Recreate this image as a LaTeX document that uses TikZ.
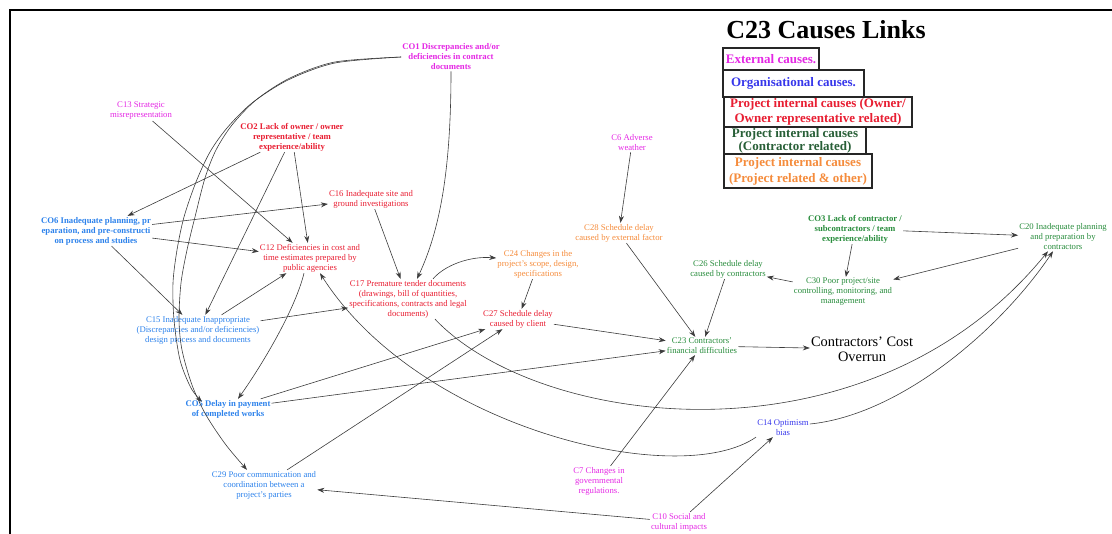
\documentclass[tikz,border=0pt]{standalone}
\usepackage{fontspec}
\setmainfont{Liberation Serif}
\usetikzlibrary{arrows.meta}
\definecolor{magC}{RGB}{228,40,228}
\definecolor{redC}{RGB}{232,30,50}
\definecolor{lblueC}{RGB}{45,130,235}
\definecolor{vblueC}{RGB}{55,55,235}
\definecolor{greenC}{RGB}{40,140,60}
\definecolor{dgreenC}{RGB}{40,95,55}
\definecolor{orangeC}{RGB}{245,140,60}
\definecolor{lineC}{RGB}{60,60,60}
\begin{document}
\begin{tikzpicture}[x=1pt,y=-1pt,
 lbl/.style={font=\fontsize{8.7}{10}\selectfont, align=center, inner sep=1pt},
 blbl/.style={font=\bfseries\fontsize{8.7}{10}\selectfont, align=center, inner sep=1pt},
 edge/.style={draw=lineC, line width=0.6pt, -{Stealth[length=7pt,width=5pt]}},
 legbox/.style={draw=black!85, line width=1.3pt, align=center, inner sep=0pt, fill=white},
]
\useasboundingbox (0,0) rectangle (1112,534);
\draw[line width=1.5pt] (10,534) -- (10,10) -- (1112,10);

% title and legend
\node[font=\bfseries\fontsize{26}{30}\selectfont, inner sep=0pt] (title) at (826,30) {C23 Causes Links};
\node[legbox, text=magC, minimum width=96pt, minimum height=23pt, font=\bfseries\fontsize{13}{15}\selectfont] (lg1) at (771,59.5) {External causes.};
\node[legbox, text=vblueC, minimum width=141pt, minimum height=27pt, font=\bfseries\fontsize{13}{15}\selectfont] (lg2) at (793.5,83.5) {Organisational causes.};
\node[legbox, text=redC, minimum width=188pt, minimum height=30pt, font=\bfseries\fontsize{13}{15}\selectfont] (lg3) at (818,112) {Project internal causes (Owner/\\Owner representative related)};
\node[legbox, text=dgreenC, minimum width=142pt, minimum height=28pt, font=\bfseries\fontsize{13}{12.5}\selectfont] (lg4) at (795,141) {Project internal causes\\(Contractor related)};
\node[legbox, text=orangeC, minimum width=148pt, minimum height=34pt, font=\bfseries\fontsize{13}{16}\selectfont] (lg5) at (798,171) {Project internal causes\\(Project related \& other)};

% nodes
\node[lbl, text=magC] (c13) at (141,111) {C13 Strategic\\misrepresentation};
\node[blbl, text=redC] (co2) at (292,137) {CO2 Lack of owner / owner\\representative / team\\experience/ability};
\node[blbl, text=magC] (co1) at (451,57) {CO1 Discrepancies and/or\\deficiencies in contract\\documents};
\node[lbl, text=magC] (c6) at (632,143) {C6 Adverse\\weather};
\node[blbl, text=lblueC] (co6) at (96,231) {CO6 Inadequate planning, pr\\eparation, and pre-constructi\\on process and studies};
\node[lbl, text=redC] (c16) at (371,199) {C16 Inadequate site and\\ground investigations};
\node[lbl, text=redC] (c12) at (310,258) {C12 Deficiencies in cost and\\time estimates prepared by\\public agencies};
\node[lbl, text=redC] (c17) at (408,299) {C17 Premature tender documents\\(drawings, bill of quantities,\\specifications, contracts and legal\\documents)};
\node[lbl, text=orangeC] (c24) at (538,264) {C24 Changes in the\\project's scope, design,\\specifications};
\node[lbl, text=orangeC] (c28) at (619,233) {C28 Schedule delay\\caused by external factor};
\node[lbl, text=redC] (c27) at (518,319) {C27 Schedule delay\\caused by client};
\node[lbl, text=lblueC] (c15) at (198,330) {C15 Inadequate Inappropriate\\(Discrepancies and/or deficiencies)\\design process and documents};
\node[blbl, text=lblueC] (co5) at (228,409) {CO5 Delay in payment\\of completed works};
\node[lbl, text=lblueC] (c29) at (264,485) {C29 Poor communication and\\coordination between a\\project's parties};
\node[lbl, text=magC] (c7) at (599,481) {C7 Changes in\\governmental\\regulations.};
\node[lbl, text=magC] (c10) at (679,522) {C10 Social and\\cultural impacts};
\node[lbl, text=vblueC] (c14) at (783,428) {C14 Optimism\\bias};
\node[lbl, text=greenC] (c23) at (702,346) {C23 Contractors'\\financial difficulties};
\node[font=\fontsize{14.4}{15}\selectfont, align=center, inner sep=1pt] (cost) at (862,349) {Contractors' Cost\\Overrun};
\node[lbl, text=greenC] (c26) at (728,269) {C26 Schedule delay\\caused by contractors};
\node[lbl, text=greenC] (c30) at (843,292) {C30 Poor project/site\\controlling, monitoring, and\\management};
\node[blbl, text=greenC] (co3) at (855,229) {CO3 Lack of contractor /\\subcontractors / team\\experience/ability};
\node[lbl, text=greenC] (c20) at (1063,237) {C20 Inadequate planning\\and preparation by\\contractors};

% straight connectors
\draw[edge] (c13) -- (c12);
\draw[edge] (co2) -- (co6);
\draw[edge] (co2) -- (c15);
\draw[edge] (co2) -- (c12);
\draw[edge] (co6) -- (c16);
\draw[edge] (co6) -- (c12);
\draw[edge] (co6) -- (c15);
\draw[edge] (c15) -- (c12);
\draw[edge] (c15) -- (c17);
\draw[edge] (c16) -- (c17);
\draw[edge] (c24) -- (c27);
\draw[edge] (c27) -- (c23);
\draw[edge] (co5) -- (c27);
\draw[edge] (co5) -- (c23);
\draw[edge] (c29) -- (c27);
\draw[edge] (c10) -- (c29);
\draw[edge] (c10) -- (c14);
\draw[edge] (c7) -- (c23);
\draw[edge] (c6) -- (c28);
\draw[edge] (c28) -- (c23);
\draw[edge] (c26) -- (c23);
\draw[edge] (c30) -- (c26);
\draw[edge] (co3) -- (c30);
\draw[edge] (co3) -- (c20);
\draw[edge] (c20) -- (c30);
\draw[edge] (c23) -- (cost);

% curved connectors
\draw[edge] (co1.south) .. controls (451,170) and (440,230) .. ([xshift=9pt]c17.north);
\draw[edge] ([xshift=-6pt]c12.south) .. controls (295,310) and (262,365) .. ([xshift=10pt]co5.north);
\draw[edge] plot[smooth] coordinates {(co1.west) (335,62) (290,78) (256,100) (232,125) (216,150) (205,178) (195,217) (187,250) (181,283) (179,320) (182,350) (192,385) (206,415) (226,445) ([xshift=-17pt]c29.north)};
\draw[edge] plot[smooth] coordinates {(co1.west) (335,63) (288,80) (252,103) (227,128) (210,152) (196,182) (184,217) (177,250) (173,283) (174,320) (180,360) (191,388) ([xshift=-26pt,yshift=-3pt]co5.north)};
\draw[edge] ([xshift=25pt]c17.north) .. controls (445,265) and (470,256) .. ([yshift=6pt]c24.west);
\draw[edge] ([xshift=27pt]c17.south) .. controls (540,430) and (870,470) .. ([xshift=-15pt]c20.south);
\draw[edge] ([yshift=4pt]c14.east) .. controls (900,415) and (1000,330) .. ([xshift=-10pt]c20.south);
\draw[edge] (c14.south west) .. controls (680,490) and (420,430) .. ([xshift=10pt]c12.south);
\end{tikzpicture}
\end{document}
